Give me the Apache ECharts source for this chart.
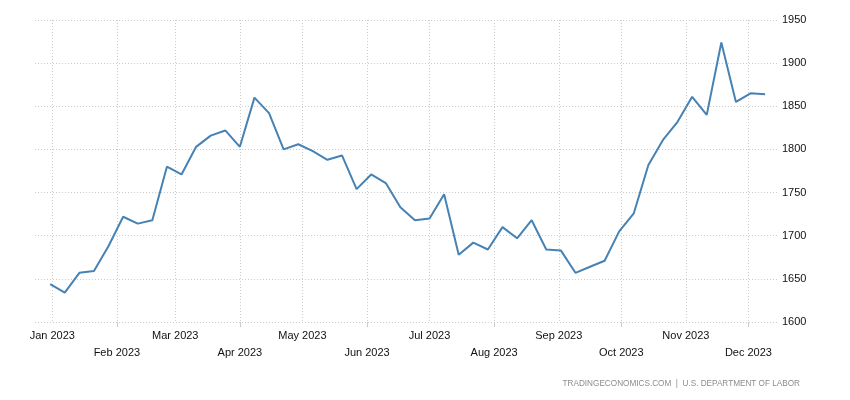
<!DOCTYPE html>
<html>
<head>
<meta charset="utf-8">
<script src="https://cdn.jsdelivr.net/npm/echarts@6/dist/echarts.min.js"></script>
<style>html,body{margin:0;padding:0;background:#fff}#c{width:850px;height:400px}</style>
</head>
<body>
<div id="c"></div>
<script>
const weekDates = ['2022-12-31','2023-01-07','2023-01-14','2023-01-21','2023-01-28','2023-02-04','2023-02-11','2023-02-18','2023-02-25','2023-03-04','2023-03-11','2023-03-18','2023-03-25','2023-04-01','2023-04-08','2023-04-15','2023-04-22','2023-04-29','2023-05-06','2023-05-13','2023-05-20','2023-05-27','2023-06-03','2023-06-10','2023-06-17','2023-06-24','2023-07-01','2023-07-08','2023-07-15','2023-07-22','2023-07-29','2023-08-05','2023-08-12','2023-08-19','2023-08-26','2023-09-02','2023-09-09','2023-09-16','2023-09-23','2023-09-30','2023-10-07','2023-10-14','2023-10-21','2023-10-28','2023-11-04','2023-11-11','2023-11-18','2023-11-25','2023-12-02','2023-12-09'];
const claims = [1644,1634,1657,1659,1688,1722,1714,1718,1780,1771,1803,1816,1822,1803,1860,1842,1800,1806,1798,1788,1793,1754,1771,1761,1733,1718,1720,1748,1678,1692,1684,1710,1697,1718,1684,1683,1657,1664,1671,1705,1726,1782,1811,1832,1861,1840,1924,1855,1865,1864];
const monthLabels = ['Jan 2023','Feb 2023','Mar 2023','Apr 2023','May 2023','Jun 2023','Jul 2023','Aug 2023','Sep 2023','Oct 2023','Nov 2023','Dec 2023'];
const yTicks = [1600,1650,1700,1750,1800,1850,1900,1950];
const sourceText = 'TRADINGECONOMICS.COM  |  U.S. DEPARTMENT OF LABOR';

function ts(s) { const p = s.split('-').map(Number); return new Date(p[0], p[1] - 1, p[2]).getTime(); }
const monthStarts = monthLabels.map((_, i) => new Date(2023, i, 1).getTime());
const evenMonthStarts = monthStarts.filter((_, i) => i % 2 === 1);
const xMin = new Date(2022, 11, 23, 17).getTime();
const xMax = new Date(2023, 11, 14, 17).getTime();
const FONT = 'Liberation Sans';
const TXT = '#111111';

const chart = echarts.init(document.getElementById('c'));
chart.setOption({
  animation: false,
  grid: { left: 35, right: 73, top: 20, bottom: 78 },
  xAxis: [{
    type: 'value', min: xMin, max: xMax, scale: true,
    axisLine: { show: false },
    axisTick: { show: false, customValues: monthStarts },
    splitLine: { show: true, lineStyle: { color: '#cccccc', type: [1, 2], width: 1 } },
    axisLabel: {
      customValues: monthStarts, margin: 8, hideOverlap: false,
      showMinLabel: true, showMaxLabel: true,
      fontFamily: FONT, fontSize: 11, color: TXT,
      formatter: function (v) {
        const d = new Date(v); const m = d.getMonth();
        return (m % 2 === 0 ? '{a|' : '{b|') + monthLabels[m] + '}';
      },
      rich: {
        a: { fontFamily: FONT, fontSize: 11, color: TXT },
        b: { fontFamily: FONT, fontSize: 11, color: TXT, padding: [17, 0, 0, 0] }
      }
    }
  }, {
    type: 'value', min: xMin, max: xMax, scale: true, position: 'bottom',
    axisLine: { show: false },
    axisLabel: { show: false },
    splitLine: { show: false },
    axisTick: { show: true, customValues: evenMonthStarts, length: 5, lineStyle: { color: '#cccccc' } }
  }],
  yAxis: {
    type: 'value', position: 'right', min: yTicks[0], max: yTicks[yTicks.length - 1], interval: 50,
    axisLine: { show: false }, axisTick: { show: false },
    splitLine: { show: true, lineStyle: { color: '#cccccc', type: [1, 2], width: 1 } },
    axisLabel: { margin: 5, fontFamily: FONT, fontSize: 11, color: TXT, formatter: v => String(v) }
  },
  graphic: [{
    type: 'text', right: 50, top: 380,
    style: { text: sourceText, fontFamily: FONT, fontSize: 8.2, fill: '#8c8c8c' }
  }],
  series: [{
    type: 'line', xAxisIndex: 0,
    data: weekDates.map((d, i) => [ts(d), claims[i]]),
    symbol: 'none', lineStyle: { color: '#4682b4', width: 2 }
  }]
});
</script>
</body>
</html>
